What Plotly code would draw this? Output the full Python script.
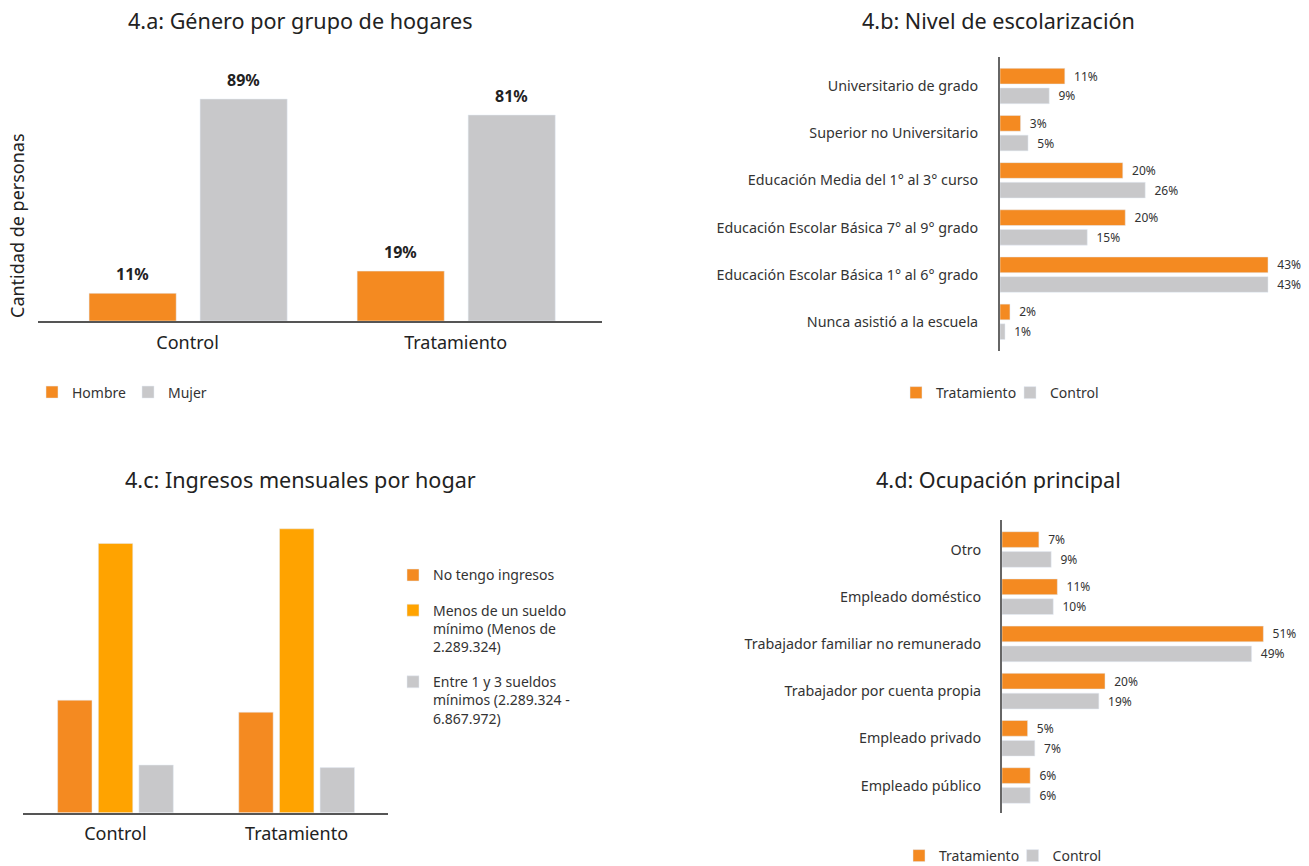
import plotly.graph_objects as go

W, H = 1309, 866
FONT = "Noto Sans"
ORANGE = "#F48A21"
YELLOW = "#FFA300"
GRAY = "#C8C8CA"
DARK = "#222222"
AXIS = "#555555"

# ---------------- data ----------------
# 4.a  (bar heights, labels as printed)
a_groups = ["Control", "Tratamiento"]
a_hombre = [11.1, 20.0]
a_mujer = [89.0, 82.6]
a_hombre_lbl = ["11%", "19%"]
a_mujer_lbl = ["89%", "81%"]

# 4.b
b_cats = ["Universitario de grado", "Superior no Universitario",
          "Educación Media del 1° al 3° curso",
          "Educación Escolar Básica 7° al 9° grado",
          "Educación Escolar Básica 1° al 6° grado",
          "Nunca asistió a la escuela"]
b_trat = [10.4, 3.3, 19.7, 20.1, 43.0, 1.6]
b_ctrl = [7.9, 4.5, 23.3, 14.0, 43.0, 0.8]
b_trat_lbl = ["11%", "3%", "20%", "20%", "43%", "2%"]
b_ctrl_lbl = ["9%", "5%", "26%", "15%", "43%", "1%"]

# 4.c
c_groups = ["Control", "Tratamiento"]
c_sin = [26.2, 23.4]
c_menos = [62.7, 66.1]
c_entre = [11.1, 10.5]
c_names = ["No tengo ingresos",
           "Menos de un sueldo<br>mínimo (Menos de<br>2.289.324)",
           "Entre 1 y 3 sueldos<br>mínimos (2.289.324 -<br>6.867.972)"]

# 4.d
d_cats = ["Otro", "Empleado doméstico", "Trabajador familiar no remunerado",
          "Trabajador por cuenta propia", "Empleado privado", "Empleado público"]
d_trat = [7.2, 10.8, 51.0, 20.1, 5.0, 5.5]
d_ctrl = [9.6, 10.0, 48.7, 18.9, 6.4, 5.5]
d_trat_lbl = ["7%", "11%", "51%", "20%", "5%", "6%"]
d_ctrl_lbl = ["9%", "10%", "49%", "19%", "7%", "6%"]


def px(x):
    return x / W


def py(y):
    return 1 - y / H


fig = go.Figure()

# ---------- 4.a ----------
A_W = 0.325
A_OFF = [-0.3675, 0.0466]
fig.add_trace(go.Bar(x=a_groups, y=a_hombre, name="Hombre", marker_color=ORANGE,
                     width=A_W, offset=A_OFF[0], xaxis="x", yaxis="y",
                     legend="legend", hoverinfo="skip"))
fig.add_trace(go.Bar(x=a_groups, y=a_mujer, name="Mujer", marker_color=GRAY,
                     width=A_W, offset=A_OFF[1], xaxis="x", yaxis="y",
                     legend="legend", hoverinfo="skip"))

annotations = []
for vals, lbls, off in [(a_hombre, a_hombre_lbl, A_OFF[0]), (a_mujer, a_mujer_lbl, A_OFF[1])]:
    for i, (v, t) in enumerate(zip(vals, lbls)):
        annotations.append(dict(x=i + off + A_W / 2, y=v, xref="x", yref="y", text="<b>%s</b>" % t,
                                showarrow=False, yanchor="bottom", yshift=6,
                                font=dict(size=16, color=DARK, family=FONT)))

# ---------- 4.b ----------
BH = 0.333
lbl_font = dict(size=12, color="#333333", family=FONT)
fig.add_trace(go.Bar(y=b_cats, x=b_trat, name="Tratamiento", orientation="h",
                     marker_color=ORANGE, width=BH, offset=-0.375,
                     text=b_trat_lbl, texttemplate="\u00a0\u00a0%{text}", textposition="outside",
                     constraintext="none", cliponaxis=False, textfont=lbl_font,
                     xaxis="x2", yaxis="y2", legend="legend2", hoverinfo="skip"))
fig.add_trace(go.Bar(y=b_cats, x=b_ctrl, name="Control", orientation="h",
                     marker_color=GRAY, width=BH, offset=0.042,
                     text=b_ctrl_lbl, texttemplate="\u00a0\u00a0%{text}", textposition="outside",
                     constraintext="none", cliponaxis=False, textfont=lbl_font,
                     xaxis="x2", yaxis="y2", legend="legend2", hoverinfo="skip"))

# ---------- 4.c ----------
C_W = 0.19
for k, (vals, name, col, off) in enumerate([(c_sin, c_names[0], ORANGE, -0.319),
                                            (c_menos, c_names[1], YELLOW, -0.094),
                                            (c_entre, c_names[2], GRAY, 0.130)]):
    fig.add_trace(go.Bar(x=c_groups, y=vals, name=name, marker_color=col,
                         width=C_W, offset=off, xaxis="x3", yaxis="y3",
                         legend="legend3", legendgroup="c%d" % k, hoverinfo="skip"))

# ---------- 4.d ----------
fig.add_trace(go.Bar(y=d_cats, x=d_trat, name="Tratamiento", orientation="h",
                     marker_color=ORANGE, width=BH, offset=-0.377,
                     text=d_trat_lbl, texttemplate="\u00a0\u00a0%{text}", textposition="outside",
                     constraintext="none", cliponaxis=False, textfont=lbl_font,
                     xaxis="x4", yaxis="y4", legend="legend4", hoverinfo="skip"))
fig.add_trace(go.Bar(y=d_cats, x=d_ctrl, name="Control", orientation="h",
                     marker_color=GRAY, width=BH, offset=0.044,
                     text=d_ctrl_lbl, texttemplate="\u00a0\u00a0%{text}", textposition="outside",
                     constraintext="none", cliponaxis=False, textfont=lbl_font,
                     xaxis="x4", yaxis="y4", legend="legend4", hoverinfo="skip"))

# ---------- titles ----------
for text, x, y in [("4.a: Género por grupo de hogares", 300, 20),
                   ("4.b: Nivel de escolarización", 998, 20),
                   ("4.c: Ingresos mensuales por hogar", 300, 479),
                   ("4.d: Ocupación principal", 998, 479)]:
    annotations.append(dict(text=text, x=px(x), y=py(y), xref="paper", yref="paper",
                            xanchor="center", yanchor="middle", showarrow=False,
                            font=dict(size=21.6, color=DARK, family=FONT)))

annotations.append(dict(text="Cantidad de personas", x=px(17), y=py(226), xref="paper", yref="paper",
                        xanchor="center", yanchor="middle", showarrow=False, textangle=-90,
                        font=dict(size=18, color=DARK, family=FONT)))

cat_tick_font = dict(size=18, color=DARK, family=FONT)
hcat_font = dict(size=14.3, color="#333333", family=FONT)
legend_font = dict(size=14, color="#333333", family=FONT)

fig.update_layout(
    width=W, height=H,
    margin=dict(l=0, r=0, t=0, b=0, autoexpand=False),
    paper_bgcolor="white", plot_bgcolor="white",
    font=dict(family=FONT, color=DARK),
    barmode="overlay",
    showlegend=True,
    annotations=annotations,
    # 4.a
    xaxis=dict(domain=[px(38), px(602)], type="category", range=[-0.558, 1.546],
               showline=True, linecolor=AXIS, linewidth=2, showgrid=False, zeroline=False,
               ticks="", tickfont=cat_tick_font, ticklabelstandoff=4, fixedrange=True,
               automargin=False),
    yaxis=dict(domain=[py(321), py(60)], range=[0, 261 / 2.494], showgrid=False, zeroline=False,
               showticklabels=False, showline=False, fixedrange=True, automargin=False),
    # 4.b
    xaxis2=dict(domain=[px(1000), px(1292)], range=[0, 292 / 6.233], anchor="y2",
                showgrid=False, zeroline=False, showticklabels=False, showline=False, fixedrange=True,
                automargin=False),
    yaxis2=dict(domain=[py(351), py(57)], type="category", range=[5.619, -0.615], anchor="x2",
                showline=True, linecolor="#666666", linewidth=2, showgrid=False, zeroline=False,
                ticks="", tickfont=hcat_font, ticklabelstandoff=17, fixedrange=True, automargin=False),
    # 4.c
    xaxis3=dict(domain=[px(23), px(388)], type="category", range=[-0.510, 1.505], anchor="y3",
                showline=True, linecolor=AXIS, linewidth=2, showgrid=False, zeroline=False,
                ticks="", tickfont=cat_tick_font, ticklabelstandoff=4, fixedrange=True, automargin=False),
    yaxis3=dict(domain=[py(812.7), py(520)], range=[0, 292.7 / 4.295], anchor="x3",
                showgrid=False, zeroline=False, showticklabels=False, showline=False, fixedrange=True,
                automargin=False),
    # 4.d
    xaxis4=dict(domain=[px(1002), px(1292)], range=[0, 290 / 5.125], anchor="y4",
                showgrid=False, zeroline=False, showticklabels=False, showline=False, fixedrange=True,
                automargin=False),
    yaxis4=dict(domain=[py(812.7), py(520)], type="category", range=[5.576, -0.625], anchor="x4",
                showline=True, linecolor="#666666", linewidth=2, showgrid=False, zeroline=False,
                ticks="", tickfont=hcat_font, ticklabelstandoff=16, fixedrange=True, automargin=False),
    legend=dict(orientation="h", x=px(32), y=py(392.5), xanchor="left", yanchor="middle",
                font=legend_font, bgcolor="rgba(0,0,0,0)", entrywidth=51, entrywidthmode="pixels"),
    legend2=dict(orientation="h", x=px(896), y=py(393), xanchor="left", yanchor="middle",
                 font=legend_font, bgcolor="rgba(0,0,0,0)", entrywidth=69, entrywidthmode="pixels"),
    legend3=dict(orientation="v", x=px(393), y=py(559.4), xanchor="left", yanchor="top",
                 font=legend_font, valign="top", bgcolor="rgba(0,0,0,0)", tracegroupgap=14),
    legend4=dict(orientation="h", x=px(899), y=py(856), xanchor="left", yanchor="middle",
                 font=legend_font, bgcolor="rgba(0,0,0,0)", entrywidth=68.6, entrywidthmode="pixels"),
)

fig.write_html("out.html")
